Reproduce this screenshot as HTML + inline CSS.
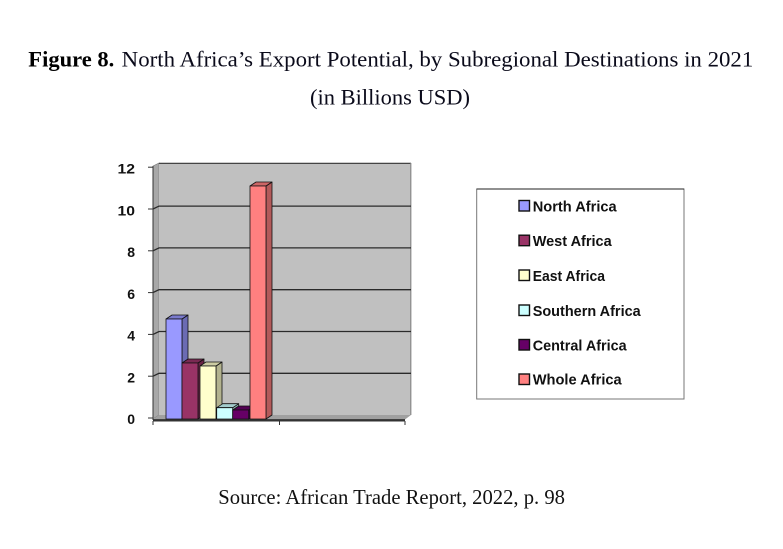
<!DOCTYPE html>
<html><head><meta charset="utf-8"><style>
html,body{margin:0;padding:0;background:#fff;}
svg{display:block;}
</style></head><body>
<svg width="783" height="549" viewBox="0 0 783 549" xmlns="http://www.w3.org/2000/svg">
<rect width="783" height="549" fill="#fff"/>
<!-- Title -->
<text x="28.3" y="66.5" font-family="Liberation Serif, serif" font-size="22" font-weight="bold" textLength="86" lengthAdjust="spacingAndGlyphs" fill="#000">Figure 8.</text>
<text x="121.7" y="66.5" font-family="Liberation Serif, serif" font-size="22" textLength="631.6" lengthAdjust="spacingAndGlyphs" fill="#0a0a1a">North Africa’s Export Potential, by Subregional Destinations in 2021</text>
<text x="310" y="104.5" font-family="Liberation Serif, serif" font-size="22" textLength="160" lengthAdjust="spacingAndGlyphs" fill="#0a0a1a">(in Billions USD)</text>

<!-- Chart walls -->
<polygon points="153,166 159,163 159,415 153,419" fill="#a8a8a8" stroke="#777" stroke-width="0.6"/>
<rect x="159" y="163" width="252" height="252" fill="#c0c0c0"/>
<line x1="159" y1="163.3" x2="411" y2="163.3" stroke="#333" stroke-width="1.2"/>
<line x1="410.8" y1="163" x2="410.8" y2="415" stroke="#888" stroke-width="1.2"/>
<polygon points="159,415 411,415 405,419.5 153,419.5" fill="#a0a0a0"/>
<line x1="153" y1="419.8" x2="405" y2="419.8" stroke="#333" stroke-width="1.3"/>

<!-- gridlines -->
<g stroke="#2a2a2a" stroke-width="1.3" fill="none">
<polyline points="153,376.2 159,373.3 411,373.3"/>
<polyline points="153,334.4 159,331.5 411,331.5"/>
<polyline points="153,292.6 159,289.7 411,289.7"/>
<polyline points="153,250.8 159,247.9 411,247.9"/>
<polyline points="153,209 159,206.1 411,206.1"/>
</g>
<!-- axis -->
<g stroke="#333" stroke-width="1">
<line x1="153" y1="166" x2="153" y2="420"/>
<line x1="148" y1="167.2" x2="153" y2="167.2"/>
<line x1="148" y1="209" x2="153" y2="209"/>
<line x1="148" y1="250.8" x2="153" y2="250.8"/>
<line x1="148" y1="292.6" x2="153" y2="292.6"/>
<line x1="148" y1="334.4" x2="153" y2="334.4"/>
<line x1="148" y1="376.2" x2="153" y2="376.2"/>
<line x1="148" y1="418" x2="153" y2="418"/>
<line x1="153" y1="421" x2="405" y2="421"/>
<line x1="153" y1="421" x2="153" y2="425"/>
<line x1="279.5" y1="421" x2="279.5" y2="425"/>
<line x1="405" y1="421" x2="405" y2="425"/>
</g>
<g font-family="Liberation Sans, sans-serif" font-size="14" font-weight="bold" fill="#111" text-anchor="end">
<text x="135" y="173.5" textLength="17.5" lengthAdjust="spacingAndGlyphs">12</text>
<text x="135" y="215.3" textLength="17.5" lengthAdjust="spacingAndGlyphs">10</text>
<text x="135" y="257">8</text>
<text x="135" y="298.8">6</text>
<text x="135" y="340.6">4</text>
<text x="135" y="382.4">2</text>
<text x="135" y="424.2">0</text>
</g>

<!-- bars -->
<g stroke="#111" stroke-width="0.8" stroke-linejoin="round">
<polygon points="182,319 188,315 188,415 182,419" fill="#6b6bb3"/>
<polygon points="166,319 172,315 188,315 182,319" fill="#7a7acc"/>
<rect x="166" y="319" width="16" height="100" fill="#9999ff"/>
<polygon points="198,363 204,359 204,415 198,419" fill="#6b2447"/>
<polygon points="182,363 188,359 204,359 198,363" fill="#7a2952"/>
<rect x="182" y="363" width="16" height="56" fill="#993366"/>
<polygon points="216,366 222,362 222,415 216,419" fill="#b3b38f"/>
<polygon points="200,366 206,362 222,362 216,366" fill="#cccca3"/>
<rect x="200" y="366" width="16" height="53" fill="#ffffcc"/>
<polygon points="232.7,407.7 238.7,403.7 238.7,415 232.7,419" fill="#8fb3b3"/>
<polygon points="216.7,407.7 222.7,403.7 238.7,403.7 232.7,407.7" fill="#a3cccc"/>
<rect x="216.7" y="407.7" width="16" height="11.3" fill="#ccffff"/>
<polygon points="248.7,410 254.7,406 254.7,415 248.7,419" fill="#470047"/>
<polygon points="232.7,410 238.7,406 254.7,406 248.7,410" fill="#520052"/>
<rect x="232.7" y="410" width="16" height="9" fill="#660066"/>
<polygon points="266,186 272,182 272,415 266,419" fill="#b35a5a"/>
<polygon points="250,186 256,182 272,182 266,186" fill="#cc6666"/>
<rect x="250" y="186" width="16" height="233" fill="#ff8080"/>
</g>

<!-- Legend -->
<rect x="476.7" y="189" width="207.3" height="210" fill="#fff" stroke="#777" stroke-width="1"/>
<line x1="476.7" y1="189" x2="684" y2="189" stroke="#222" stroke-width="1"/>
<g stroke="#111" stroke-width="1.4">
<rect x="519" y="200.5" width="10.5" height="10.5" fill="#9999ff"/>
<rect x="519" y="235.2" width="10.5" height="10.5" fill="#993366"/>
<rect x="519" y="270" width="10.5" height="10.5" fill="#ffffcc"/>
<rect x="519" y="305" width="10.5" height="10.5" fill="#ccffff"/>
<rect x="519" y="339.5" width="10.5" height="10.5" fill="#660066"/>
<rect x="519" y="374" width="10.5" height="10.5" fill="#ff8080"/>
</g>
<g font-family="Liberation Sans, sans-serif" font-size="15" font-weight="bold" fill="#111">
<text x="532.7" y="211.3" textLength="84" lengthAdjust="spacingAndGlyphs">North Africa</text>
<text x="532.7" y="246" textLength="79" lengthAdjust="spacingAndGlyphs">West Africa</text>
<text x="532.7" y="281" textLength="72.3" lengthAdjust="spacingAndGlyphs">East Africa</text>
<text x="532.7" y="316" textLength="108" lengthAdjust="spacingAndGlyphs">Southern Africa</text>
<text x="532.7" y="350.3" textLength="94" lengthAdjust="spacingAndGlyphs">Central Africa</text>
<text x="532.7" y="384.6" textLength="89" lengthAdjust="spacingAndGlyphs">Whole Africa</text>
</g>

<!-- Source -->
<text x="218.3" y="504" font-family="Liberation Serif, serif" font-size="21" textLength="346.7" lengthAdjust="spacingAndGlyphs" fill="#111">Source: African Trade Report, 2022, p. 98</text>
</svg>
</body></html>
